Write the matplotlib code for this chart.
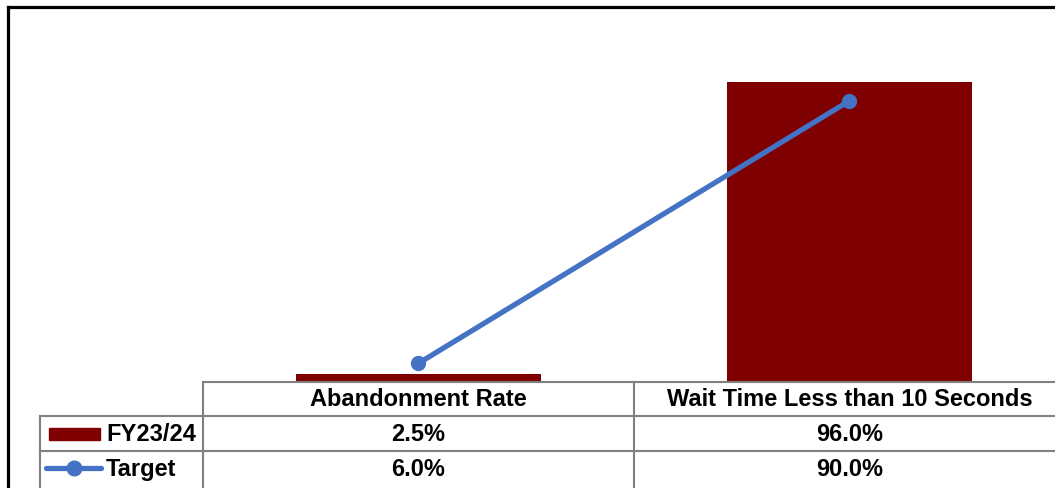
import matplotlib.pyplot as plt
import matplotlib.patheffects as pe
from matplotlib.lines import Line2D
from matplotlib.patches import Rectangle

plt.rcParams['font.family'] = ['Liberation Sans', 'DejaVu Sans']

categories = ['Abandonment Rate', 'Wait Time Less than 10 Seconds']
actual = [2.5, 96.0]
target = [6.0, 90.0]
series_names = ['FY23/24', 'Target']

bar_color = '#7F0000'
line_color = '#4472C4'
grid_color = '#808080'

W, H = 1055, 489
fig = plt.figure(figsize=(W / 100, H / 100), dpi=100)


def fx(px):
    return px / W


def fy(py):
    return 1 - py / H


# plot area sits on top of the data table, columns 431 px wide
ax = fig.add_axes([fx(203), fy(383), fx(862), (383 - 8) / H])
x = list(range(len(categories)))
ax.bar(x, actual, width=0.57, color=bar_color, zorder=2,
       path_effects=[pe.SimpleLineShadow(offset=(2, -2), shadow_color='#999999', alpha=0.4),
                     pe.Normal()])
ax.plot(x, target, color=line_color, lw=3.8, marker='o', ms=10,
        solid_capstyle='round', zorder=3)
ax.set_xlim(-0.5, 1.5)
ax.set_ylim(0, 120)
ax.axis('off')

# outer chart frame
fig.add_artist(Line2D([fx(8), fx(8)], [fy(8), fy(495)], color='black', lw=2.3))
fig.add_artist(Line2D([fx(8), fx(1060)], [fy(8), fy(8)], color='black', lw=2.3))

# data table grid
def hline(y, x0, x1):
    fig.add_artist(Line2D([fx(x0), fx(x1)], [fy(y), fy(y)], color=grid_color, lw=1.5))


def vline(xp, y0, y1):
    fig.add_artist(Line2D([fx(xp), fx(xp)], [fy(y0), fy(y1)], color=grid_color, lw=1.5))


hline(383, 203, 1060)
hline(417, 40, 1060)
hline(452, 40, 1060)
vline(40, 417, 495)
vline(203, 383, 495)
vline(634, 383, 495)

col_centers = [418.5, 849.5]
row_centers = [400, 435, 470]
fs = 17

for cx, cat in zip(col_centers, categories):
    fig.text(fx(cx), fy(row_centers[0]), cat, ha='center', va='center',
             fontsize=fs, fontweight='bold')
for cx, v in zip(col_centers, actual):
    fig.text(fx(cx), fy(row_centers[1]), f'{v:.1f}%', ha='center', va='center',
             fontsize=fs, fontweight='bold')
for cx, v in zip(col_centers, target):
    fig.text(fx(cx), fy(row_centers[2]), f'{v:.1f}%', ha='center', va='center',
             fontsize=fs, fontweight='bold')

# legend keys inside the table
fig.add_artist(Rectangle((fx(49), fy(441)), fx(51), 12 / H, color=bar_color))
fig.add_artist(Line2D([fx(46), fx(101)], [fy(469), fy(469)], color=line_color, lw=3.8,
                      solid_capstyle='round'))
fig.add_artist(Line2D([fx(74)], [fy(469)], color=line_color, marker='o', ms=10.5))
fig.text(fx(106), fy(row_centers[1]), series_names[0], ha='left', va='center',
         fontsize=fs, fontweight='bold')
fig.text(fx(106), fy(row_centers[2]), series_names[1], ha='left', va='center',
         fontsize=fs, fontweight='bold')

fig.savefig('out.png', dpi=100)
